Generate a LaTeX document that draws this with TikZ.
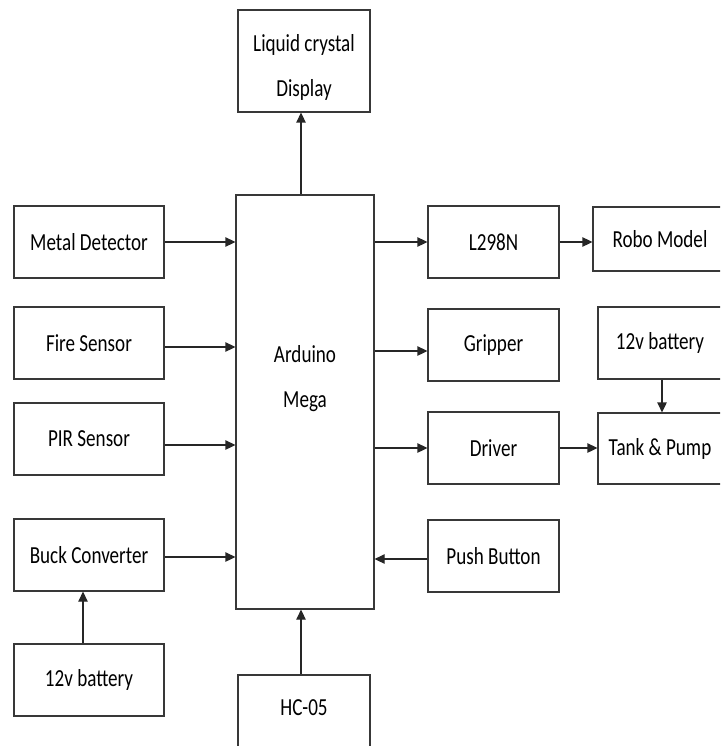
\documentclass[tikz,border=0pt]{standalone}
\usepackage{fontspec}
\setmainfont{Carlito}[FakeStretch=0.78]
\usetikzlibrary{arrows.meta,positioning}

\begin{document}
\begin{tikzpicture}[
  x=1pt, y=-1pt,
  font=\fontsize{24.5}{45}\selectfont,
  box/.style={draw=black!78, line width=1.3pt, fill=white, align=center,
              inner sep=0pt, minimum width=150pt, minimum height=72pt},
  mid/.style={box, minimum width=131pt},
  side/.style={box, minimum width=124pt},
  arr/.style={draw=black!85, line width=1.3pt, -{Triangle[length=10pt,width=9.5pt]}}
]
\useasboundingbox (0,0) rectangle (720,746);
\clip (0,0) rectangle (720,746);
% centre column
\node[box, minimum width=132pt, minimum height=102pt,
      label={[yshift=-6pt, align=center]center:Liquid crystal\\Display}] (lcd) at (304,61) {};
\node[box, minimum width=138pt, minimum height=414pt,
      label={[yshift=23pt, align=center]center:Arduino\\Mega}] (ard) at (305,402) {};
\node[box, minimum width=132pt, minimum height=100pt,
      label={[yshift=17pt]center:HC-05}] (hc) at (304,725) {};
% left column
\node[box] (metal) at (89,242) {Metal Detector};
\node[box] (fire) at (89,343) {Fire Sensor};
\node[box] (pir) at (89,439) {PIR Sensor};
\node[box] (buck) at (89,555) {Buck Converter};
\node[box] (batl) at (89,680) {12v battery};
% right columns
\node[mid] (l298) at (493.5,242) {L298N};
\node[mid] (grip) at (493.5,345) {Gripper};
\node[mid] (drv) at (493.5,448) {Driver};
\node[mid] (push) at (493.5,556) {Push Button};
\node[box, minimum width=134pt, minimum height=64pt] (robo) at (660,239) {Robo Model};
\node[side] (batr) at (660,343) {12v battery};
\node[side, minimum height=71pt] (tank) at (660,448.5) {Tank \& Pump};
% connectors
\draw[arr] ([xshift=-4pt]ard.north) -- ([xshift=-4pt]ard.north |- lcd.south);
\draw[arr] ([xshift=-3pt]hc.north) -- ([xshift=-3pt]hc.north |- ard.south);
\draw[arr] (metal.east) -- (metal.east -| ard.west);
\draw[arr] ([yshift=-4pt]fire.east) -- ([yshift=-4pt]fire.east -| ard.west);
\draw[arr] ([yshift=-6pt]pir.east) -- ([yshift=-6pt]pir.east -| ard.west);
\draw[arr] ([yshift=-2pt]buck.east) -- ([yshift=-2pt]buck.east -| ard.west);
\draw[arr] ([xshift=-6pt]batl.north) -- ([xshift=-6pt]buck.south);
\draw[arr] (ard.east |- l298.west) -- (l298.west);
\draw[arr] ([yshift=-6pt]ard.east |- grip.west) -- ([yshift=-6pt]grip.west);
\draw[arr] (ard.east |- drv.west) -- (drv.west);
\draw[arr] ([yshift=-3pt]push.west) -- ([yshift=-3pt]push.west -| ard.east);
\draw[arr] (l298.east) -- (l298.east -| robo.west);
\draw[arr] (drv.east) -- (drv.east -| tank.west);
\draw[arr] ([xshift=2pt]batr.south) -- ([xshift=2pt]tank.north);
\end{tikzpicture}
\end{document}
